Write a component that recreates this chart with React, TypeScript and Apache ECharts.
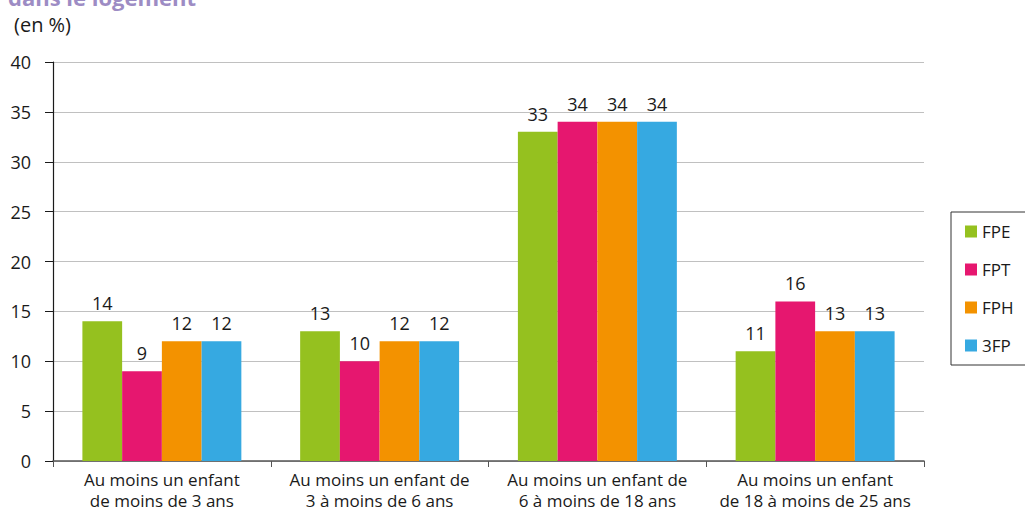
import React, { useEffect, useRef } from "react";
import * as echarts from "echarts";

const categories = [
  "Au moins un enfant\nde moins de 3 ans",
  "Au moins un enfant de\n3 à moins de 6 ans",
  "Au moins un enfant de\n6 à moins de 18 ans",
  "Au moins un enfant\nde 18 à moins de 25 ans",
];
const seriesNames = ["FPE", "FPT", "FPH", "3FP"];
const fpe = [14, 13, 33, 11];
const fpt = [9, 10, 34, 16];
const fph = [12, 12, 34, 13];
const fp3 = [12, 12, 34, 13];
const colors = ["#95c11f", "#e6176f", "#f39200", "#36a9e1"];
const yTicks = { min: 0, max: 40, interval: 5 };

const FONT = "'Open Sans', 'Noto Sans', sans-serif";

export default function App() {
  const ref = useRef<HTMLDivElement>(null);
  useEffect(() => {
    if (!ref.current) return;
    const chart = echarts.init(ref.current, null, { renderer: "svg" });
    const values = [fpe, fpt, fph, fp3];
    chart.setOption({
      animation: false,
      textStyle: { fontFamily: FONT },
      graphic: [
        {
          type: "text",
          left: 8,
          top: -14,
          style: { text: "dans le logement", fontSize: 22, fontWeight: "bold", fill: "#9d8cc4", fontFamily: FONT },
        },
        {
          type: "text",
          left: 14,
          top: 14,
          style: { text: "(en %)", fontSize: 20, fill: "#1a1a1a", fontFamily: FONT },
        },
      ],
      legend: {
        orient: "vertical",
        left: 951,
        top: 212,
        padding: [11, 40, 11, 14],
        itemWidth: 12,
        itemHeight: 12,
        itemGap: 21,
        borderColor: "#333",
        borderWidth: 1,
        icon: "rect",
        textStyle: { fontSize: 17, color: "#1a1a1a", fontFamily: FONT },
        data: seriesNames,
      },
      grid: { left: 53, right: 101, top: 62, bottom: 51, containLabel: false },
      xAxis: {
        type: "category",
        data: categories,
        axisLine: { lineStyle: { color: "#555", width: 1.5 } },
        axisTick: { show: true, length: 6, lineStyle: { color: "#555" } },
        axisLabel: { fontSize: 17, color: "#1a1a1a", margin: 8, lineHeight: 21, interval: 0, fontFamily: FONT },
      },
      yAxis: {
        type: "value",
        min: yTicks.min,
        max: yTicks.max,
        interval: yTicks.interval,
        axisLine: { show: true, lineStyle: { color: "#1a1a1a", width: 1.2 } },
        axisTick: { show: true, length: 8, lineStyle: { color: "#1a1a1a" } },
        axisLabel: { fontSize: 18, color: "#1a1a1a", margin: 22, fontFamily: FONT },
        splitLine: { lineStyle: { color: "#c0c0c0" } },
      },
      series: seriesNames.map((name, i) => ({
        name,
        type: "bar",
        data: values[i],
        barGap: "0%",
        barCategoryGap: "27%",
        itemStyle: { color: colors[i] },
        label: { show: true, position: "top", distance: 9, fontSize: 18, color: "#1a1a1a", fontFamily: FONT },
      })),
    });
    return () => chart.dispose();
  }, []);
  return <div ref={ref} style={{ position: "absolute", left: 0, top: 0, width: 1025, height: 512 }} />;
}
